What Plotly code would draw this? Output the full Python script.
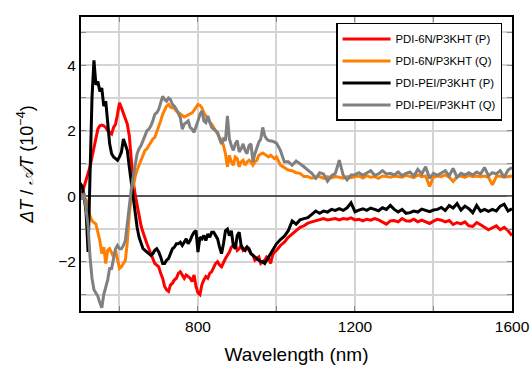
import plotly.graph_objects as go

# Wavelength sampling (nm)
wl = [500, 505, 510, 515, 520, 525, 530, 535, 540, 545, 550, 555, 560, 565, 570, 575, 580, 585, 590, 595,
      600, 605, 610, 615, 620, 625, 630, 635, 640, 645, 650, 655, 660, 665, 670, 675, 680, 685, 690, 695,
      700, 705, 710, 715, 720, 725, 730, 735, 740, 745, 750, 755, 760, 765, 770, 775, 780, 785, 790, 795,
      800, 805, 810, 815, 820, 825, 830, 835, 840, 845, 850, 855, 860, 865, 870, 875, 880, 885, 890, 895,
      900, 905, 910, 915, 920, 925, 930, 935, 940, 945, 950, 955, 960, 965, 970, 975, 980, 985, 990, 995,
      1000, 1010, 1020, 1030, 1040, 1050, 1060, 1070, 1080, 1090, 1100, 1110, 1120, 1130, 1140, 1150,
      1160, 1170, 1180, 1190, 1200, 1210, 1220, 1230, 1240, 1250, 1260, 1270, 1280, 1290, 1300, 1310,
      1320, 1330, 1340, 1350, 1360, 1370, 1380, 1390, 1400, 1410, 1420, 1430, 1440, 1450, 1460, 1470,
      1480, 1490, 1500, 1510, 1520, 1530, 1540, 1550, 1560, 1570, 1580, 1590, 1600]

pdi6n_p = [0.0, 0.1, 0.3, 0.5, 0.7, 0.9, 1.2, 1.5, 1.8, 2.05, 2.15, 2.17, 2.15, 2.1, 2.0, 1.95, 1.9, 2.1, 2.2, 2.5,
           2.85, 2.7, 2.55, 2.4, 2.2, 1.85, 1.1, 0.45, 0.05, -0.3, -0.6, -0.9, -1.1, -1.3, -1.45, -1.6, -1.75, -1.95, -2.05, -2.1,
           -2.15, -2.35, -2.5, -2.75, -2.85, -2.9, -2.7, -2.65, -2.55, -2.5, -2.35, -2.3, -2.4, -2.5, -2.4, -2.45, -2.5, -2.6, -2.4, -2.75,
           -2.95, -3.0, -2.7, -2.55, -2.45, -2.5, -2.35, -2.3, -2.15, -2.05, -2.0, -2.1, -2.15, -2.0, -1.9, -1.8, -1.7, -1.55, -1.5, -1.45,
           -1.65, -1.6, -1.5, -1.65, -1.6, -1.55, -1.65, -1.75, -1.8, -1.95, -1.9, -1.85, -2.05, -2.0, -1.95, -1.85, -1.9, -2.05, -1.8, -1.7,
           -1.65, -1.5, -1.4, -1.25, -1.15, -1.05, -0.95, -0.9, -0.82, -0.78, -0.74, -0.72, -0.68, -0.72, -0.7, -0.68,
           -0.72, -0.68, -0.7, -0.66, -0.72, -0.7, -0.75, -0.7, -0.73, -0.68, -0.72, -0.78, -0.85, -0.75, -0.74, -0.78,
           -0.68, -0.75, -0.76, -0.7, -0.78, -0.73, -0.77, -0.83, -0.76, -0.7, -0.73, -0.78, -0.74, -0.86, -0.8, -0.84,
           -0.78, -0.9, -0.92, -0.8, -0.87, -0.94, -1.02, -0.96, -0.9, -1.02, -0.95, -1.05, -1.2]

pdi6n_q = [0.0, 0.05, -0.05, -0.1, -0.3, -0.6, -0.75, -0.8, -0.85, -1.1, -1.35, -1.75, -1.55, -2.05, -1.65, -1.6, -1.75, -1.85, -1.65, -1.95,
           -2.2, -2.15, -2.05, -1.95, -1.4, -0.55, -0.05, 0.35, 0.6, 0.8, 0.95, 1.15, 1.3, 1.4, 1.45, 1.55, 1.65, 1.75, 1.8, 1.95,
           2.1, 2.3, 2.5, 2.65, 2.75, 2.8, 2.72, 2.7, 2.68, 2.6, 2.55, 2.5, 2.45, 2.42, 2.45, 2.48, 2.5, 2.55, 2.62, 2.72,
           2.8, 2.78, 2.7, 2.55, 2.45, 2.35, 2.25, 2.2, 2.1, 2.0, 1.9, 1.8, 1.7, 1.55, 1.3, 0.9, 1.25, 1.05, 0.95, 1.2,
           1.15, 0.9, 1.05, 1.1, 0.95, 1.05, 1.1, 1.05, 0.95, 1.05, 1.1, 1.25, 1.28, 1.32, 1.28, 1.25, 1.2, 1.25, 1.2, 1.15,
           1.2, 0.95, 0.88, 0.8, 0.78, 0.72, 0.7, 0.6, 0.6, 0.55, 0.58, 0.6, 0.55, 0.6, 0.56, 0.6,
           0.58, 0.55, 0.6, 0.57, 0.6, 0.62, 0.56, 0.63, 0.58, 0.6, 0.55, 0.62, 0.6, 0.58, 0.62, 0.6,
           0.58, 0.64, 0.6, 0.57, 0.65, 0.6, 0.62, 0.3, 0.58, 0.62, 0.6, 0.65, 0.58, 0.45, 0.6, 0.62,
           0.58, 0.64, 0.6, 0.62, 0.6, 0.62, 0.58, 0.35, 0.6, 0.62, 0.58, 0.6, 0.62]

pdipei_p = [0.4, 0.3, 0.0, -0.5, -1.7, 0.5, 3.0, 4.15, 3.4, 3.5, 3.2, 3.3, 2.75, 2.9, 2.1, 1.6, 1.3, 1.2, 1.15, 1.1,
            1.2, 1.35, 1.75, 1.6, 1.4, 0.9, 0.4, -0.1, -0.6, -0.95, -1.25, -1.45, -1.6, -1.65, -1.7, -1.75, -1.8, -1.75, -1.65, -1.6,
            -1.7, -1.85, -2.05, -2.05, -1.95, -1.9, -1.75, -1.6, -1.55, -1.45, -1.45, -1.4, -1.5, -1.4, -1.3, -1.45, -1.35, -1.2, -1.1, -1.05,
            -1.7, -1.25, -1.3, -1.2, -1.35, -1.15, -1.25, -1.1, -1.1, -1.2, -1.3, -1.55, -1.75, -1.45, -1.05, -1.0, -1.2, -1.05, -1.5, -1.6,
            -1.2, -1.1, -1.5, -1.6, -1.65, -1.55, -1.6, -1.75, -1.8, -1.85, -1.9, -1.95, -2.0, -2.0, -2.05, -1.95, -1.85, -1.75, -1.65, -1.55,
            -1.45, -1.32, -1.22, -1.05, -0.75, -0.85, -0.72, -0.68, -0.65, -0.55, -0.45, -0.52, -0.45, -0.48, -0.4, -0.43,
            -0.38, -0.43, -0.35, -0.2, -0.47, -0.42, -0.38, -0.43, -0.36, -0.4, -0.44, -0.35, -0.4, -0.28, -0.4, -0.48,
            -0.4, -0.52, -0.5, -0.45, -0.48, -0.39, -0.44, -0.47, -0.42, -0.4, -0.34, -0.43, -0.28, -0.36, -0.22, -0.42,
            -0.3, -0.38, -0.5, -0.28, -0.46, -0.4, -0.46, -0.4, -0.45, -0.3, -0.24, -0.45, -0.38]

pdipei_q = [0.05, -0.1, 0.1, -0.4, -0.9, -1.85, -2.5, -2.85, -2.95, -3.05, -3.25, -3.4, -3.0, -2.75, -2.55, -2.2, -2.2, -1.9, -1.6, -1.5,
            -1.6, -1.6, -1.5, -1.35, -0.8, -0.3, 0.2, 0.6, 0.95, 1.3, 1.45, 1.55, 1.7, 1.85, 2.0, 2.05, 2.15, 2.3, 2.5, 2.55,
            2.65, 2.85, 3.05, 2.95, 2.9, 3.0, 2.95, 2.8, 2.75, 2.65, 2.5, 2.4, 2.05, 2.2, 2.25, 2.3, 2.1, 2.05, 1.95, 2.1,
            2.3, 2.5, 2.6, 2.3, 2.25, 2.45, 2.3, 2.1, 2.05, 2.0, 1.95, 1.75, 1.6, 1.75, 1.7, 2.45, 1.75, 1.55, 1.4, 1.6,
            1.7, 1.35, 1.45, 1.6, 1.4, 1.3, 1.55, 1.6, 1.05, 1.3, 1.5, 1.65, 1.75, 2.1, 1.85, 1.75, 1.7, 1.7, 1.68, 1.65,
            1.62, 1.4, 1.05, 1.05, 0.95, 1.08, 1.0, 0.9, 0.8, 0.7, 0.55, 0.72, 0.68, 0.46, 0.62, 0.7,
            1.1, 0.64, 0.5, 0.65, 0.66, 0.72, 0.64, 0.7, 0.78, 0.64, 0.68, 0.78, 0.68, 0.7, 0.65, 0.74,
            0.63, 0.7, 0.74, 0.62, 0.82, 0.68, 0.9, 0.55, 0.7, 0.64, 0.72, 0.78, 0.62, 0.85, 0.58, 0.7,
            0.65, 0.72, 0.65, 0.74, 0.68, 0.88, 0.62, 0.72, 0.68, 0.78, 0.58, 0.8, 0.88]

series_names = ["PDI-6N/P3KHT (P)", "PDI-6N/P3KHT (Q)", "PDI-PEI/P3KHT (P)", "PDI-PEI/P3KHT (Q)"]
series_vals = [pdi6n_p, pdi6n_q, pdipei_p, pdipei_q]
series_colors = ["#ff0000", "#ff8000", "#000000", "#808080"]

FONT = "Liberation Sans, Arial, Helvetica, sans-serif"

fig = go.Figure()
for i, (name, vals, col) in enumerate(zip(series_names, series_vals, series_colors)):
    fig.add_trace(go.Scatter(x=wl, y=vals, mode="lines", name=name, legendgroup=f"g{i}",
                             line=dict(color=col, width=3)))

tick_style = dict(ticks="inside", ticklen=5, tickcolor="#888888", tickwidth=1)

fig.update_layout(
    width=530, height=368,
    margin=dict(l=81, r=18, t=17, b=57, autoexpand=False),
    paper_bgcolor="white", plot_bgcolor="white",
    font=dict(family=FONT, color="black"),
    showlegend=True,
    legend=dict(x=0.977, y=0.98, xanchor="right", yanchor="top",
                bgcolor="white", bordercolor="black", borderwidth=1.5,
                font=dict(size=11.3, family=FONT), tracegroupgap=3,
                itemwidth=48),
    xaxis=dict(range=[502, 1600], tick0=0, dtick=400, automargin=False,
               showgrid=True, gridcolor="#d4d4d4", gridwidth=1.5,
               minor=dict(dtick=200, tick0=0, showgrid=True, gridcolor="#d4d4d4", gridwidth=1.5, **tick_style),
               **tick_style,
               showline=True, linecolor="black", linewidth=2, mirror="ticks",
               tickfont=dict(size=15.5), zeroline=False,
               title=dict(text="Wavelength (nm)", font=dict(size=19), standoff=14)),
    yaxis=dict(range=[-3.5, 5.47], tick0=0, dtick=2, automargin=False,
               showgrid=True, gridcolor="#d4d4d4", gridwidth=1.5,
               minor=dict(dtick=1, tick0=0, showgrid=True, gridcolor="#d4d4d4", gridwidth=1.5, **tick_style),
               **tick_style,
               showline=True, linecolor="black", linewidth=2, mirror="ticks",
               tickfont=dict(size=15.5), zeroline=True, zerolinecolor="#555555", zerolinewidth=1.5,
               title=dict(text="<i>\u0394T</i> / <i>\U0001D49CT</i> (10<sup>\u22124</sup>)",
                          font=dict(size=18), standoff=20)),
)

fig.write_html("out.html")
